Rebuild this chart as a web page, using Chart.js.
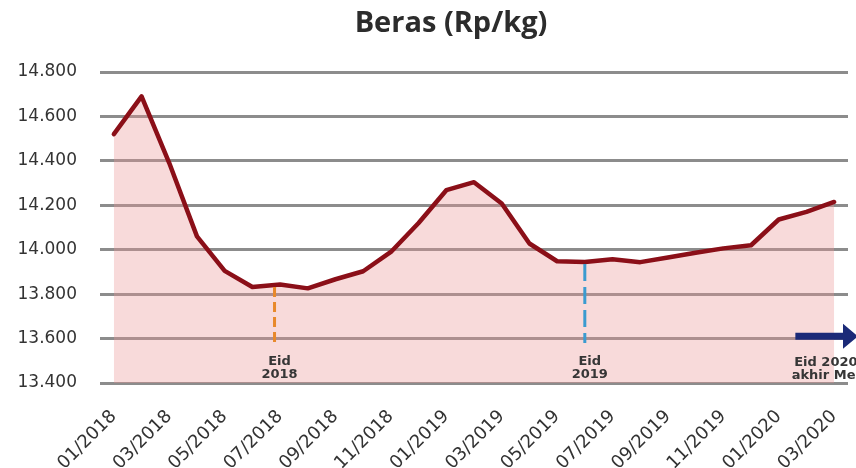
<!DOCTYPE html>
<html><head><meta charset="utf-8">
<script src="https://cdn.jsdelivr.net/npm/chart.js@4/dist/chart.umd.min.js"></script>
<style>html,body{margin:0;padding:0;background:#fff;overflow:hidden}</style>
</head><body>
<canvas id="c" width="856" height="468"></canvas>
<script>
// ---- data ----
const months = ['01/2018','02/2018','03/2018','04/2018','05/2018','06/2018','07/2018','08/2018','09/2018','10/2018','11/2018','12/2018',
                '01/2019','02/2019','03/2019','04/2019','05/2019','06/2019','07/2019','08/2019','09/2019','10/2019','11/2019','12/2019',
                '01/2020','02/2020','03/2020'];
const prices = [14520,14690,14390,14060,13905,13832,13843,13826,13867,13903,13990,14120,
                14268,14304,14208,14028,13948,13945,13957,13944,13965,13986,14006,14020,
                14136,14170,14215];
const yTicks = [13400,13600,13800,14000,14200,14400,14600,14800];
const titleText = 'Beras (Rp/kg)';
const eidLabels = [['Eid','2018'],['Eid','2019']];
const eidIndex = [5.8, 17];
const eidLineEnd = 13580;
const arrowLabel = ['Eid 2020','akhir Mei'];
const arrowFromIndex = 24.6;
const arrowValue = 13610;

const annot = {
  id: 'annot',
  afterDatasetsDraw(chart) {
    const {ctx, chartArea, scales: {x, y}} = chart;
    const colors = ['#e8892b', '#3b9bd0'];
    const dashes = [[10,5],[17,6]];
    ctx.save();
    // title
    ctx.fillStyle = '#2c2c2c';
    ctx.font = 'bold 29px "Open Sans"';
    ctx.textAlign = 'center';
    ctx.textBaseline = 'middle';
    ctx.fillText(titleText, chart.width / 2 + 23, 24);
    eidIndex.forEach((idx, k) => {
      const px = x.getPixelForValue(idx);
      const i0 = Math.floor(idx), f = idx - i0;
      const v = f ? prices[i0]*(1-f) + prices[i0+1]*f : prices[i0];
      ctx.strokeStyle = colors[k];
      ctx.lineWidth = 3;
      ctx.setLineDash(dashes[k]);
      ctx.beginPath();
      ctx.moveTo(px, y.getPixelForValue(v) + 2);
      ctx.lineTo(px, y.getPixelForValue(eidLineEnd));
      ctx.stroke();
      ctx.setLineDash([]);
      ctx.fillStyle = '#363636';
      ctx.font = 'bold 13px "DejaVu Sans"';
      ctx.textAlign = 'center';
      ctx.textBaseline = 'middle';
      ctx.fillText(eidLabels[k][0], px + 5, chartArea.bottom - 21);
      ctx.fillText(eidLabels[k][1], px + 5, chartArea.bottom - 8);
    });
    // arrow
    const ay = y.getPixelForValue(arrowValue);
    const ax0 = x.getPixelForValue(arrowFromIndex);
    const tip = chart.width + 2;
    ctx.fillStyle = '#1b2a78';
    ctx.beginPath();
    ctx.moveTo(ax0, ay - 3.5);
    ctx.lineTo(tip - 15, ay - 3.5);
    ctx.lineTo(tip - 15, ay - 12.5);
    ctx.lineTo(tip, ay);
    ctx.lineTo(tip - 15, ay + 12.5);
    ctx.lineTo(tip - 15, ay + 3.5);
    ctx.lineTo(ax0, ay + 3.5);
    ctx.closePath();
    ctx.fill();
    ctx.fillStyle = '#363636';
    const tx = x.getPixelForValue(25.7);
    ctx.fillText(arrowLabel[0], tx, chartArea.bottom - 20);
    ctx.fillText(arrowLabel[1], tx, chartArea.bottom - 7);
    ctx.restore();
  }
};

new Chart(document.getElementById('c'), {
  type: 'line',
  data: {
    labels: months,
    datasets: [{
      data: prices,
      borderColor: '#8b0f18',
      borderWidth: 4.5,
      backgroundColor: 'rgba(236,150,150,0.35)',
      fill: 'start',
      pointRadius: 0,
      tension: 0,
      borderJoinStyle: 'round',
      borderCapStyle: 'round'
    }]
  },
  options: {
    responsive: false,
    animation: false,
    layout: { padding: { left: 0, right: 8, top: 72, bottom: 0 } },
    plugins: {
      legend: { display: false },
      tooltip: { enabled: false },
      title: { display: false }
    },
    scales: {
      x: {
        offset: true,
        grid: { display: false },
        border: { display: false },
        ticks: {
          autoSkip: false, maxRotation: 45, minRotation: 45,
          color: '#333', font: { family: 'DejaVu Sans', size: 18 }, padding: 15,
          callback: (v, i) => (i % 2 === 0 ? months[i] : '')
        },
        afterFit: s => { s.height = 85; s.paddingRight = 0; s.paddingLeft = 0; }
      },
      y: {
        min: yTicks[0], max: yTicks[yTicks.length - 1],
        grid: { color: '#8c8c8c', lineWidth: 3, drawTicks: false },
        border: { display: false },
        afterBuildTicks: s => { s.ticks = yTicks.map(v => ({ value: v })); },
        ticks: {
          color: '#333', font: { family: 'DejaVu Sans', size: 17 }, padding: 23,
          callback: v => (v / 1000).toFixed(3)
        },
        afterFit: s => { s.width = 100; }
      }
    }
  },
  plugins: [annot]
});
</script>
</body></html>
